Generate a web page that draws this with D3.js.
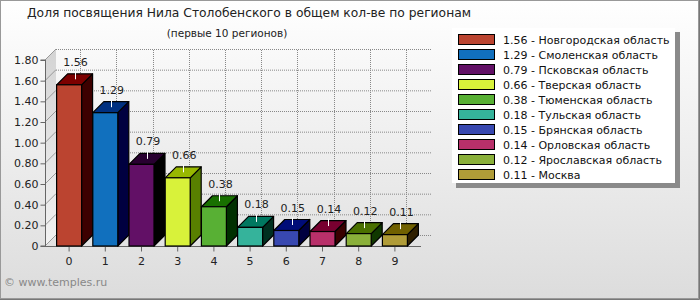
<!DOCTYPE html>
<html>
<head>
<meta charset="utf-8">
<script src="https://cdn.jsdelivr.net/npm/d3@7"></script>
<style>
  body { margin: 0; }
  svg text { font-family: "DejaVu Sans", Verdana, sans-serif; }
</style>
</head>
<body>
<div id="chart"></div>
<script>
/*------Chart data------*/
var categories = ["0", "1", "2", "3", "4", "5", "6", "7", "8", "9"];
var values = [1.56, 1.29, 0.79, 0.66, 0.38, 0.18, 0.15, 0.14, 0.12, 0.11];
var regions = ["Новгородская область", "Смоленская область", "Псковская область",
  "Тверская область", "Тюменская область", "Тульская область", "Брянская область",
  "Орловская область", "Ярославская область", "Москва"];
var yTicks = [0, 0.2, 0.4, 0.6, 0.8, 1.0, 1.2, 1.4, 1.6, 1.8];

// front / top / side colours of each box
var frontColors = ["#bb4430", "#1170be", "#621066", "#d8f23a", "#58b034", "#35b39b", "#3848b0", "#b8306a", "#8ab03a", "#b09c38"];
var topColors   = ["#7c0000", "#003080", "#280030", "#98b800", "#187000", "#007860", "#000c78", "#780030", "#4a7000", "#706000"];
var sideColors  = ["#3c0000", "#000040", "#000000", "#588000", "#003000", "#003020", "#000040", "#380000", "#103800", "#302000"];

var width = 700, height = 300;
var depth = 11;

var svg = d3.select("#chart").append("svg")
  .attr("width", width)
  .attr("height", height);

/*------Background------*/
var defs = svg.append("defs");
var bg = defs.append("linearGradient").attr("id", "bg").attr("x1", 0).attr("y1", 0).attr("x2", 0).attr("y2", 1);
bg.append("stop").attr("offset", "0%").attr("stop-color", "#ffffff");
bg.append("stop").attr("offset", "100%").attr("stop-color", "#dcdcdc");
var wall = defs.append("linearGradient").attr("id", "wall").attr("x1", 0).attr("y1", 0).attr("x2", 0).attr("y2", 1);
wall.append("stop").attr("offset", "0%").attr("stop-color", "#d4d4d4");
wall.append("stop").attr("offset", "100%").attr("stop-color", "#f2f2f2");

svg.append("rect").attr("x", 0).attr("y", 0).attr("width", width).attr("height", height).attr("fill", "url(#bg)");
svg.append("rect").attr("x", 0.5).attr("y", 0.5).attr("width", width - 2).attr("height", height - 2)
  .attr("fill", "none").attr("stroke", "#999");
svg.append("path").attr("d", "M699.5,0V299.5H0").attr("fill", "none").attr("stroke", "#777");

/*------Titles------*/
svg.append("text").attr("x", 27).attr("y", 17).attr("font-size", "12.3px").attr("fill", "#222")
  .text("Доля посвящения Нила Столобенского в общем кол-ве по регионам");
svg.append("text").attr("x", 227).attr("y", 37).attr("text-anchor", "middle").attr("font-size", "10.5px").attr("fill", "#222")
  .text("(первые 10 регионов)");

/*------Scales------*/
var x = d3.scaleBand().domain(categories).range([51, 413]).paddingInner(0.31).paddingOuter(0.155);
var y = d3.scaleLinear().domain([0, 1.8]).range([246, 60]);
var x0 = 45, x1 = 421;

/*------Walls and grid------*/
svg.append("path")
  .attr("d", "M" + x0 + "," + y(0) + "L" + x0 + "," + y(1.8) + "L" + (x0 + depth) + "," + (y(1.8) - depth) + "L" + (x0 + depth) + "," + (y(0) - depth) + "Z")
  .attr("fill", "url(#wall)");

svg.selectAll(".hgrid").data(yTicks).enter().append("line")
  .attr("x1", x0 + depth).attr("x2", x1 + depth)
  .attr("y1", function(d) { return y(d) - depth + 0.5; })
  .attr("y2", function(d) { return y(d) - depth + 0.5; })
  .attr("stroke", "#888").attr("stroke-dasharray", "1,1");

svg.selectAll(".vgrid").data(categories).enter().append("line")
  .attr("x1", function(d) { return Math.round(x(d) + x.bandwidth() / 2 + depth) + 0.5; })
  .attr("x2", function(d) { return Math.round(x(d) + x.bandwidth() / 2 + depth) + 0.5; })
  .attr("y1", y(0) - depth).attr("y2", y(1.8) - depth)
  .attr("stroke", "#888").attr("stroke-dasharray", "1,1");

svg.selectAll(".diag").data(yTicks).enter().append("line")
  .attr("x1", x0).attr("x2", x0 + depth)
  .attr("y1", function(d) { return y(d); })
  .attr("y2", function(d) { return y(d) - depth; })
  .attr("stroke", "#999");

/*------Axes------*/
var yAxis = svg.append("g").attr("transform", "translate(" + (x0 + 0.5) + ",0)")
  .call(d3.axisLeft(y).tickValues(yTicks).tickSize(5).tickPadding(2)
    .tickFormat(function(d) { return d === 0 ? "0" : d3.format(".2f")(d); }));
yAxis.select(".domain").attr("stroke", "#666").attr("d", "M-5," + y(0) + "H0V" + y(1.8) + "H-5");
yAxis.selectAll(".tick line").attr("stroke", "#666");
yAxis.selectAll("text").attr("font-size", "11px").attr("fill", "#222").attr("font-family", "DejaVu Sans, Verdana, sans-serif");

var xAxis = svg.append("g").attr("transform", "translate(0," + (y(0) + 0.5) + ")")
  .call(d3.axisBottom(x).tickSize(5).tickPadding(6));
xAxis.select(".domain").attr("stroke", "#666").attr("d", "M" + x0 + ",0H" + x1);
xAxis.selectAll(".tick line").attr("stroke", "#666");
xAxis.selectAll("text").attr("font-size", "11px").attr("fill", "#222").attr("font-family", "DejaVu Sans, Verdana, sans-serif");

/*------3D bars------*/
var bars = svg.selectAll(".bar").data(values).enter().append("g").attr("class", "bar");

bars.append("path")
  .attr("d", function(d, i) {
    var l = x(categories[i]), r = l + x.bandwidth(), t = y(d), b = y(0);
    return "M" + r + "," + b + "L" + r + "," + t + "L" + (r + depth) + "," + (t - depth) + "L" + (r + depth) + "," + (b - depth) + "Z";
  })
  .attr("fill", function(d, i) { return sideColors[i]; })
  .attr("stroke", "#000").attr("stroke-width", 1.2).attr("stroke-linejoin", "round");

bars.append("path")
  .attr("d", function(d, i) {
    var l = x(categories[i]), r = l + x.bandwidth(), t = y(d);
    return "M" + l + "," + t + "L" + (l + depth) + "," + (t - depth) + "L" + (r + depth) + "," + (t - depth) + "L" + r + "," + t + "Z";
  })
  .attr("fill", function(d, i) { return topColors[i]; })
  .attr("stroke", "#000").attr("stroke-width", 1.2).attr("stroke-linejoin", "round");

bars.append("rect")
  .attr("x", function(d, i) { return x(categories[i]); })
  .attr("y", function(d) { return y(d); })
  .attr("width", x.bandwidth())
  .attr("height", function(d) { return y(0) - y(d); })
  .attr("fill", function(d, i) { return frontColors[i]; })
  .attr("stroke", "#000").attr("stroke-width", 1.2);

/*------Value labels------*/
bars.append("line")
  .attr("x1", function(d, i) { return Math.round(x(categories[i]) + x.bandwidth() / 2 + depth / 2) + 0.5; })
  .attr("x2", function(d, i) { return Math.round(x(categories[i]) + x.bandwidth() / 2 + depth / 2) + 0.5; })
  .attr("y1", function(d) { return y(d) - depth / 2; })
  .attr("y2", function(d) { return y(d) - 13; })
  .attr("stroke", "#fff");

bars.append("text")
  .attr("x", function(d, i) { return x(categories[i]) + x.bandwidth() / 2 + depth / 2 + 1; })
  .attr("y", function(d) { return y(d) - 19; })
  .attr("text-anchor", "middle")
  .attr("font-size", "11px").attr("fill", "#222")
  .text(function(d) { return d3.format(".2f")(d); });

/*------Legend------*/
svg.append("rect").attr("x", 456).attr("y", 32).attr("width", 224).attr("height", 156).attr("fill", "#8a8a8a");
svg.append("rect").attr("x", 452).attr("y", 28).attr("width", 223).attr("height", 155).attr("fill", "#fff");

var legend = svg.selectAll(".legend").data(values).enter().append("g")
  .attr("transform", function(d, i) { return "translate(458," + (34 + i * 15) + ")"; });

legend.append("rect").attr("x", 0.5).attr("y", 0.5).attr("width", 36).attr("height", 10)
  .attr("fill", function(d, i) { return frontColors[i]; })
  .attr("stroke", "#000");

legend.append("text").attr("x", 45).attr("y", 9.5).attr("font-size", "11px").attr("fill", "#111")
  .text(function(d, i) { return d3.format(".2f")(d) + " - " + regions[i]; });

/*------Footer------*/
svg.append("text").attr("x", 4).attr("y", 286).attr("font-size", "11px").attr("fill", "#888")
  .text("© www.temples.ru");
</script>
</body>
</html>
